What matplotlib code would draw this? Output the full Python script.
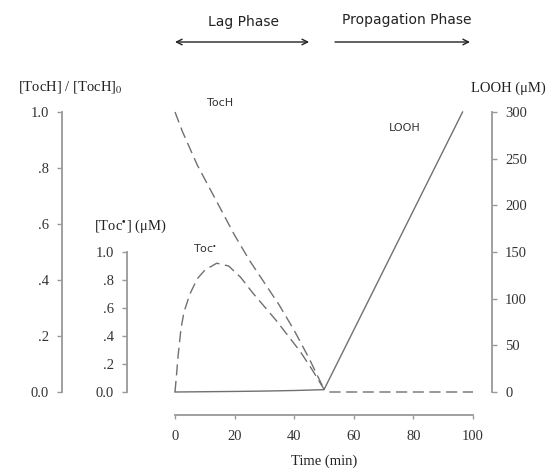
import matplotlib.pyplot as plt
import numpy as np

plt.rcParams['font.family'] = ['Liberation Serif', 'DejaVu Serif']
plt.rcParams['mathtext.fontset'] = 'stix'

# TocH / TocH0 (left axis)
t_toch = [0, 2.5, 5, 7.5, 10, 15, 20, 25, 30, 35, 40, 45, 50]
toch = [1.0, 0.93, 0.87, 0.81, 0.76, 0.66, 0.56, 0.47, 0.39, 0.31, 0.22, 0.12, 0.01]

# Toc radical, uM (inner left axis)
t_toc = [0, 0.5, 1, 2, 3, 5, 7.5, 10, 14, 18, 22, 26, 30, 34, 38, 42, 46, 50, 51, 100]
toc = [0, 0.12, 0.25, 0.45, 0.57, 0.70, 0.81, 0.87, 0.92, 0.90, 0.82, 0.71, 0.61,
       0.51, 0.40, 0.29, 0.16, 0.02, 0, 0]

# LOOH, uM (right axis)
t_looh = [0, 10, 20, 30, 40, 50, 96.5]
looh = [0, 0.3, 0.6, 1.0, 1.6, 2.5, 300]

left_ticks = [0, 0.2, 0.4, 0.6, 0.8, 1.0]
left_labels = ['0.0', '.2', '.4', '.6', '.8', '1.0']
looh_ticks = [0, 50, 100, 150, 200, 250, 300]
time_ticks = [0, 20, 40, 60, 80, 100]

line_c = '#707070'
axis_c = '#999999'
fs = 10.5

fig = plt.figure(figsize=(5.52, 4.72), dpi=100)
ax = fig.add_axes([175 / 552, 80 / 472, 298 / 552, 280 / 472])
ax_toc = ax.twinx()
ax_looh = ax.twinx()

ax.set_xlim(0, 100)
ax.set_ylim(0, 1)
ax_toc.set_ylim(0, 2)
ax_looh.set_ylim(0, 300)

dash = (0, (8, 4))
ax.plot(t_toch, toch, color=line_c, lw=1.0, linestyle=dash, clip_on=False)
ax_toc.plot(t_toc, toc, color=line_c, lw=1.0, linestyle=dash, clip_on=False)
ax_looh.plot(t_looh, looh, color=line_c, lw=1.0, clip_on=False)

for a in (ax, ax_toc, ax_looh):
    for s in a.spines.values():
        s.set_visible(False)
        s.set_color(axis_c)
        s.set_linewidth(1.3)
    a.tick_params(colors=axis_c, labelcolor='#333333', labelsize=fs,
                  length=3.5, width=1.0, pad=6)

# main left axis
ax.spines['left'].set_visible(True)
ax.spines['left'].set_position(('axes', -113 / 298))
ax.spines['left'].set_bounds(0, 1)
ax.set_yticks(left_ticks)
ax.set_yticklabels(left_labels)

# bottom time axis
ax.spines['bottom'].set_visible(True)
ax.spines['bottom'].set_position(('axes', -23 / 280))
ax.spines['bottom'].set_bounds(0, 100)
ax.set_xticks(time_ticks)
ax.tick_params(axis='x', length=3, pad=8)
ax.set_xlabel('Time (min)', fontsize=fs, labelpad=8, color='#222222')

# Toc axis on the left
ax_toc.yaxis.set_ticks_position('left')
ax_toc.spines['left'].set_visible(True)
ax_toc.spines['left'].set_position(('axes', -48 / 298))
ax_toc.spines['left'].set_bounds(0, 1)
ax_toc.set_yticks(left_ticks)
ax_toc.set_yticklabels(left_labels)

# LOOH axis on the right
ax_looh.spines['right'].set_visible(True)
ax_looh.spines['right'].set_position(('axes', 317 / 298))
ax_looh.spines['right'].set_bounds(0, 300)
ax_looh.set_yticks(looh_ticks)

# axis titles
fig.text(70 / 552, 1 - 87 / 472, '[TocH] / [TocH]$_0$', fontsize=fs, ha='center', va='center', color='#222222')
fig.text(130 / 552, 1 - 226 / 472, '[Toc$^{\\bullet}$] (\u03bcM)', fontsize=fs, ha='center', va='center', color='#222222')
fig.text(508 / 552, 1 - 88 / 472, 'LOOH (\u03bcM)', fontsize=fs, ha='center', va='center', color='#222222')

# curve labels
sans = ['DejaVu Sans']
fig.text(220 / 552, 1 - 103 / 472, 'TocH', fontsize=8, family=sans, ha='center', va='center', color='#333333')
fig.text(405 / 552, 1 - 128 / 472, 'LOOH', fontsize=8, family=sans, ha='center', va='center', color='#333333')
fig.text(205 / 552, 1 - 248 / 472, 'Toc$^{\\bullet}$', fontsize=8, family=sans, ha='center', va='center', color='#333333')

# phase annotations
ax.annotate('', xy=(0, 1 - 42 / 472), xytext=(45, 1 - 42 / 472),
            xycoords=('data', 'figure fraction'), textcoords=('data', 'figure fraction'),
            arrowprops=dict(arrowstyle='<->', color='#222222', lw=1.0, shrinkA=0, shrinkB=0))
ax.annotate('', xy=(99, 1 - 42 / 472), xytext=(53.7, 1 - 42 / 472),
            xycoords=('data', 'figure fraction'), textcoords=('data', 'figure fraction'),
            arrowprops=dict(arrowstyle='->', color='#222222', lw=1.0, shrinkA=0, shrinkB=0))
fig.text(243 / 552, 1 - 22 / 472, 'Lag Phase', fontsize=10, family=sans, ha='center', va='center', color='#222222')
fig.text(407 / 552, 1 - 20 / 472, 'Propagation Phase', fontsize=10, family=sans, ha='center', va='center', color='#222222')

fig.savefig('out.png', dpi=100)
